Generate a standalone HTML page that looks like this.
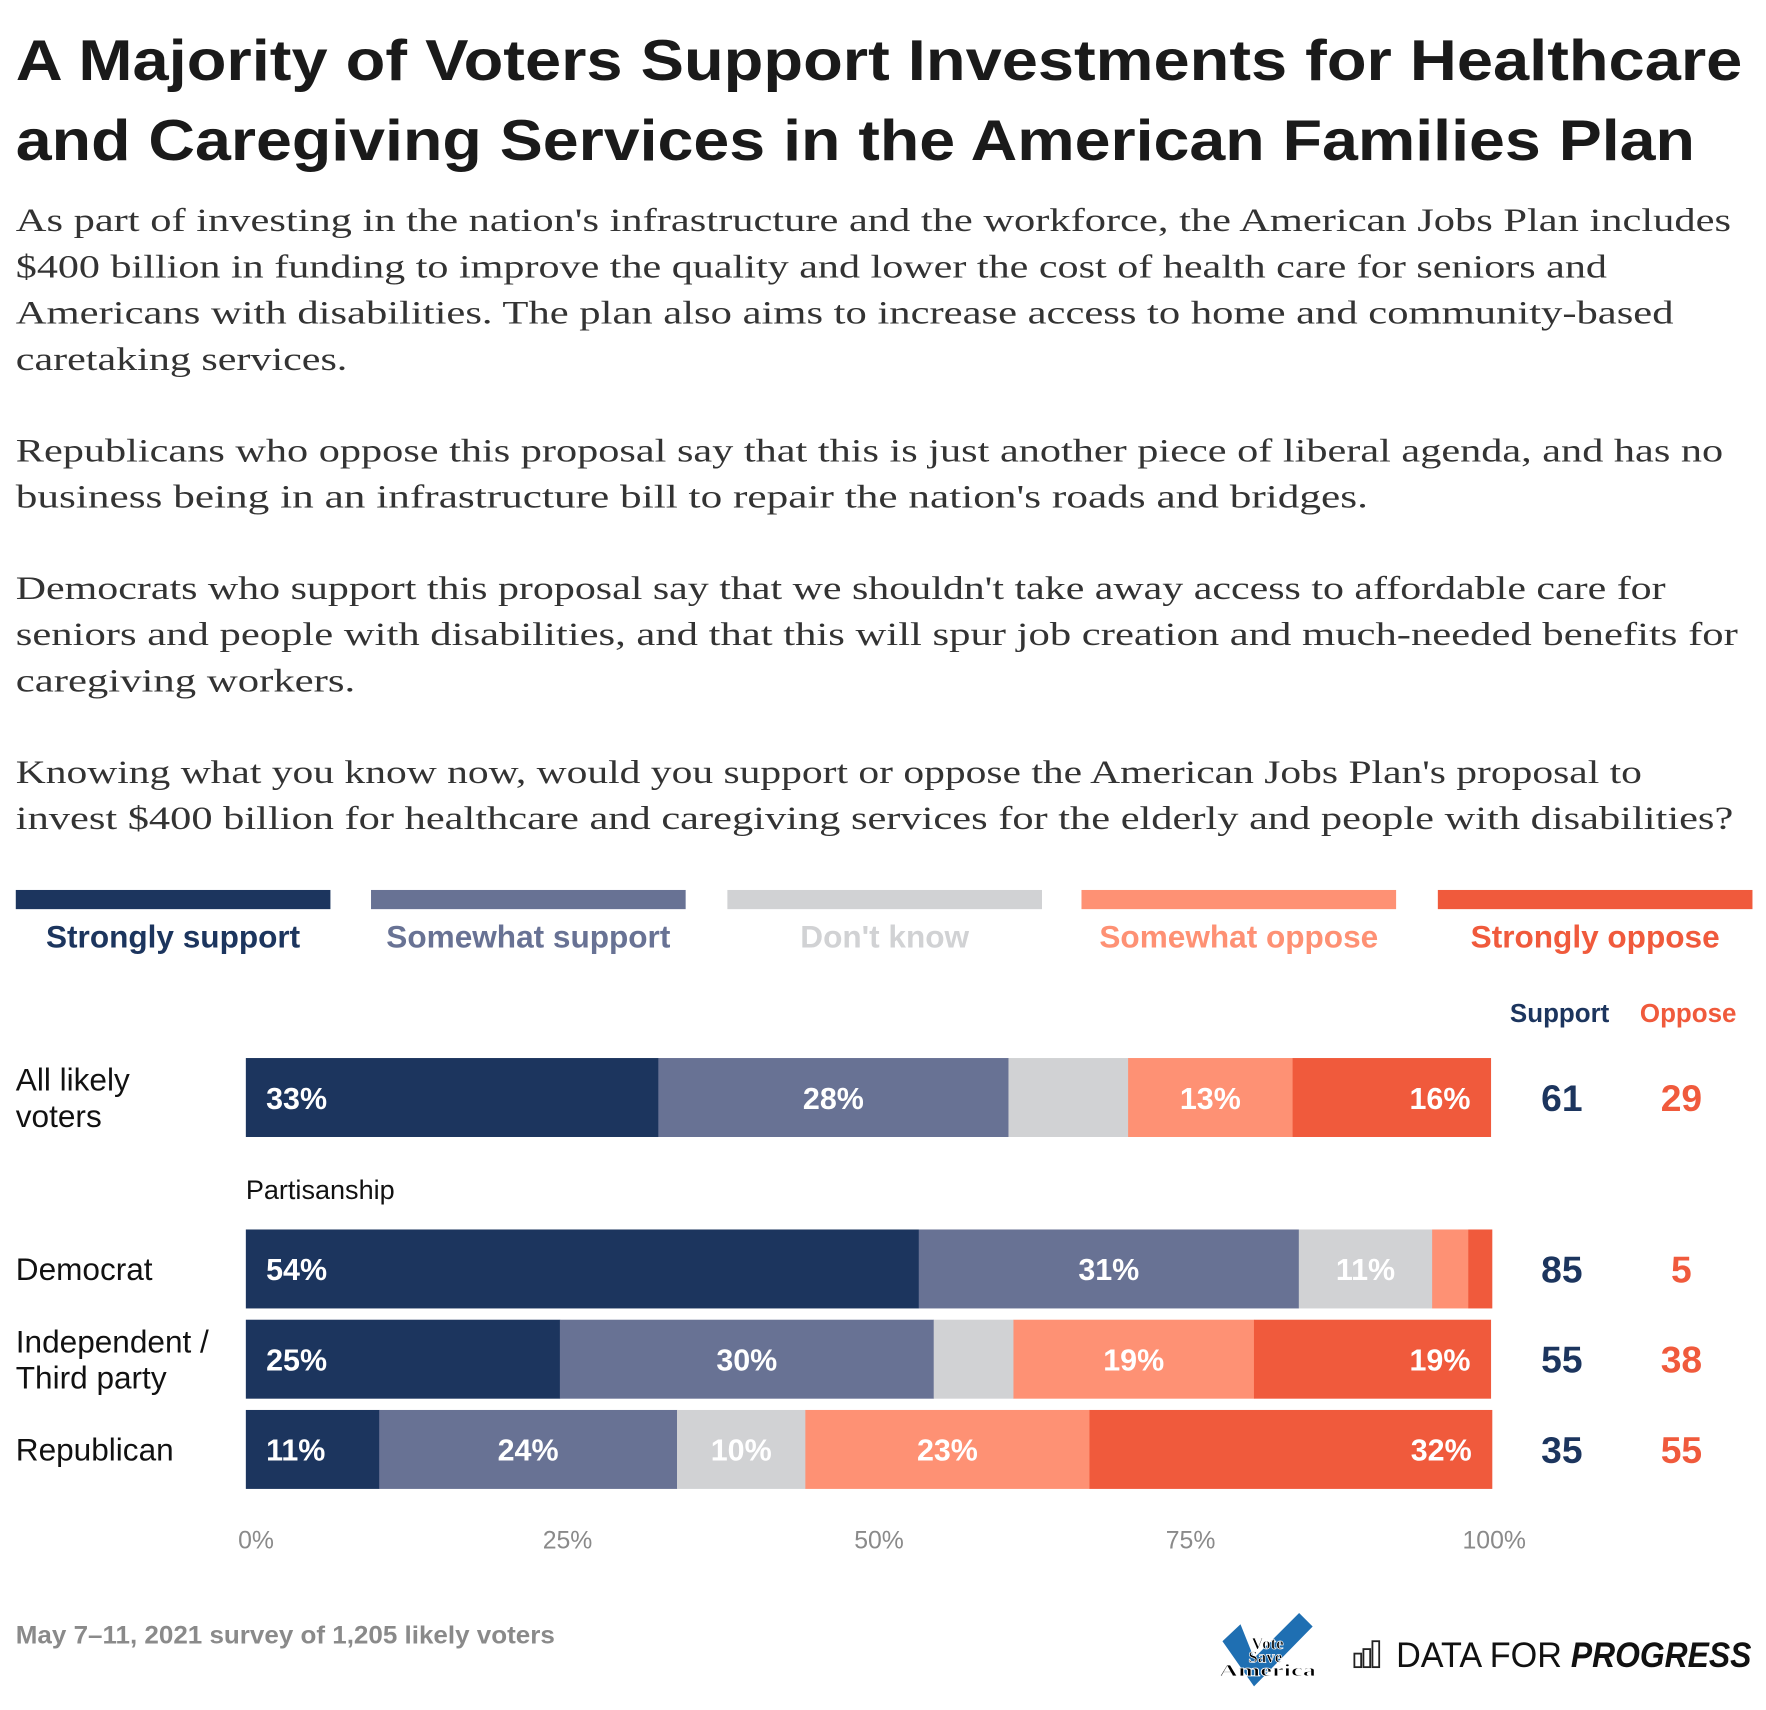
<!DOCTYPE html>
<html><head><meta charset="utf-8"><style>
html,body{margin:0;padding:0;background:#fff;}
svg{display:block;}
</style></head><body>
<svg id="chart" xmlns="http://www.w3.org/2000/svg" width="1766" height="1710" viewBox="0 0 1566 1516" preserveAspectRatio="none">
<rect width="1566" height="1516" fill="#fff"/>
<g font-family="Liberation Sans, sans-serif" font-weight="bold" font-size="51" fill="#1a1a1a">
<text x="14" y="71" textLength="1531" lengthAdjust="spacingAndGlyphs">A Majority of Voters Support Investments for Healthcare</text>
<text x="14" y="142" textLength="1489" lengthAdjust="spacingAndGlyphs">and Caregiving Services in the American Families Plan</text>
</g>
<g font-family="Liberation Serif, serif" font-size="29" fill="#333">
<text x="14" y="205" textLength="1521" lengthAdjust="spacingAndGlyphs">As part of investing in the nation's infrastructure and the workforce, the American Jobs Plan includes</text>
<text x="14" y="246" textLength="1411" lengthAdjust="spacingAndGlyphs">$400 billion in funding to improve the quality and lower the cost of health care for seniors and</text>
<text x="14" y="287" textLength="1470" lengthAdjust="spacingAndGlyphs">Americans with disabilities. The plan also aims to increase access to home and community-based</text>
<text x="14" y="328" textLength="294" lengthAdjust="spacingAndGlyphs">caretaking services.</text>
<text x="14" y="409" textLength="1514" lengthAdjust="spacingAndGlyphs">Republicans who oppose this proposal say that this is just another piece of liberal agenda, and has no</text>
<text x="14" y="450" textLength="1199" lengthAdjust="spacingAndGlyphs">business being in an infrastructure bill to repair the nation's roads and bridges.</text>
<text x="14" y="531" textLength="1463" lengthAdjust="spacingAndGlyphs">Democrats who support this proposal say that we shouldn't take away access to affordable care for</text>
<text x="14" y="572" textLength="1527" lengthAdjust="spacingAndGlyphs">seniors and people with disabilities, and that this will spur job creation and much-needed benefits for</text>
<text x="14" y="613" textLength="301" lengthAdjust="spacingAndGlyphs">caregiving workers.</text>
<text x="14" y="694" textLength="1442" lengthAdjust="spacingAndGlyphs">Knowing what you know now, would you support or oppose the American Jobs Plan's proposal to</text>
<text x="14" y="735" textLength="1523" lengthAdjust="spacingAndGlyphs">invest $400 billion for healthcare and caregiving services for the elderly and people with disabilities?</text>
</g>
<g id="legend"></g>
<g id="plot"></g>
<g id="axis"></g>
<text x="14" y="1457" font-family="Liberation Sans, sans-serif" font-weight="bold" font-size="22.5" fill="#8a8a8a" textLength="478" lengthAdjust="spacingAndGlyphs">May 7–11, 2021 survey of 1,205 likely voters</text>
<g>
<polygon points="1084,1455 1100,1440 1112,1470 1152,1430 1164,1442 1112,1495" fill="#1f6fb2"/>
<text x="1124" y="1462" text-anchor="middle" font-family="Liberation Serif, serif" font-weight="bold" font-size="15" fill="#000" stroke="#fff" stroke-width="0.6">Vote</text>
<text x="1122" y="1474" text-anchor="middle" font-family="Liberation Serif, serif" font-weight="bold" font-size="15" fill="#000" stroke="#fff" stroke-width="0.6">Save</text>
<text x="1124" y="1486" text-anchor="middle" font-family="Liberation Serif, serif" font-weight="bold" font-size="15" fill="#000" stroke="#fff" stroke-width="0.6" textLength="86" lengthAdjust="spacingAndGlyphs">America</text>
</g>
<g>
<g fill="none" stroke="#222" stroke-width="1.6">
<rect x="1201" y="1466" width="6" height="12"/><rect x="1209" y="1462" width="6" height="16"/><rect x="1217" y="1455" width="6" height="23"/>
</g>
<text x="1238" y="1478" font-family="Liberation Sans, sans-serif" font-size="31" fill="#111" textLength="147" lengthAdjust="spacingAndGlyphs">DATA FOR</text>
<text x="1393" y="1478" font-family="Liberation Sans, sans-serif" font-weight="bold" font-style="italic" font-size="31" fill="#111" textLength="160" lengthAdjust="spacingAndGlyphs">PROGRESS</text>
</g>
</svg>
<script>
const seriesNames = ["Strongly support","Somewhat support","Don't know","Somewhat oppose","Strongly oppose"];
const categories = ["All likely voters","Democrat","Independent / Third party","Republican"];
const stronglySupport = [33.1, 54.0, 25.2, 10.7];
const somewhatSupport = [28.1, 30.5, 30.0, 23.9];
const dontKnow = [9.6, 10.7, 6.4, 10.3];
const somewhatOppose = [13.2, 2.9, 19.3, 22.8];
const stronglyOppose = [15.9, 1.9, 19.0, 32.3];
const supportTotals = [61, 85, 55, 35];
const opposeTotals = [29, 5, 38, 55];
const xTicks = [0, 25, 50, 75, 100];

const NS = "http://www.w3.org/2000/svg";
const colors = ["#1c355e","#687294","#d1d2d4","#fe9174","#f05a3c"];
const series = [stronglySupport, somewhatSupport, dontKnow, somewhatOppose, stronglyOppose];
const X0 = 218, X1 = 1323;
function xScale(v){ return X0 + (X1 - X0) * v / 100; }
const rowY = [938, 1090, 1170, 1250];
const barH = 70;
function mk(tag, attrs, parent, txt){
  const e = document.createElementNS(NS, tag);
  for (const k in attrs) e.setAttribute(k, attrs[k]);
  if (txt !== undefined) e.textContent = txt;
  parent.appendChild(e); return e;
}
const legend = document.getElementById('legend');
const legX = [14, 329, 645, 959, 1275], legW = 279;
seriesNames.forEach((n, i) => {
  const g = mk('g', {}, legend);
  
  
  mk('rect', {x: legX[i], y: 789, width: legW, height: 17, fill: colors[i]}, g);
  mk('text', {x: legX[i] + legW/2, y: 840, 'text-anchor': 'middle', 'font-family': 'Liberation Sans, sans-serif', 'font-weight': 'bold', 'font-size': 28, fill: i === 2 ? '#d1d2d4' : colors[i]}, g, n);
});
const plot = document.getElementById('plot');
const hs = mk('text', {x: 1383, y: 906, 'text-anchor': 'middle', 'font-family': 'Liberation Sans, sans-serif', 'font-weight': 'bold', 'font-size': 23, fill: '#1c355e'}, plot, 'Support');


const ho = mk('text', {x: 1497, y: 906, 'text-anchor': 'middle', 'font-family': 'Liberation Sans, sans-serif', 'font-weight': 'bold', 'font-size': 23, fill: '#f05a3c'}, plot, 'Oppose');


const pl = mk('text', {x: 218, y: 1063, 'font-family': 'Liberation Sans, sans-serif', 'font-size': 24, fill: '#111'}, plot, 'Partisanship');


const labelLines = [["All likely","voters"],["Democrat"],["Independent /","Third party"],["Republican"]];
categories.forEach((c, r) => {
  const y = rowY[r], cy = y + barH/2;
  const lines = labelLines[r];
  const lt = mk('text', {x: 14, 'font-family': 'Liberation Sans, sans-serif', 'font-size': 28, fill: '#111'}, plot);
  
  
  lines.forEach((l, k) => {
    mk('tspan', {x: 14, y: cy + 10 + (k - (lines.length-1)/2) * 32}, lt, l);
  });
  let acc = 0;
  series.forEach((s, i) => {
    const v = s[r];
    const xa = xScale(acc), xb = xScale(acc + v);
    const rect = mk('rect', {x: xa, y: y, width: xb - xa + 0.3, height: barH, fill: colors[i]}, plot);
    
    
    if (v >= 10) {
      let anchor = 'middle', tx = (xa + xb)/2;
      if (i === 0) { anchor = 'start'; tx = xa + 18; }
      if (i === 4) { anchor = 'end'; tx = xb - 18; }
      const t = mk('text', {x: tx, y: cy + 10, 'text-anchor': anchor, 'font-family': 'Liberation Sans, sans-serif', 'font-weight': 'bold', 'font-size': 27, fill: '#fff'}, plot, Math.round(v) + '%');
      
      
    }
    acc += v;
  });
  const st = mk('text', {x: 1385, y: cy + 12, 'text-anchor': 'middle', 'font-family': 'Liberation Sans, sans-serif', 'font-weight': 'bold', 'font-size': 33, fill: '#1c355e'}, plot, supportTotals[r]);
  
  
  const ot = mk('text', {x: 1491, y: cy + 12, 'text-anchor': 'middle', 'font-family': 'Liberation Sans, sans-serif', 'font-weight': 'bold', 'font-size': 33, fill: '#f05a3c'}, plot, opposeTotals[r]);
  
  
});
const axis = document.getElementById('axis');
xTicks.forEach(t => {
  const tl = mk('text', {x: xScale(t) + (t === 100 ? 2 : 9), y: 1373, 'text-anchor': 'middle', 'font-family': 'Liberation Sans, sans-serif', 'font-size': 22, fill: '#8a8a8a'}, axis, t + '%');
  
  
});
</script>
</body></html>
